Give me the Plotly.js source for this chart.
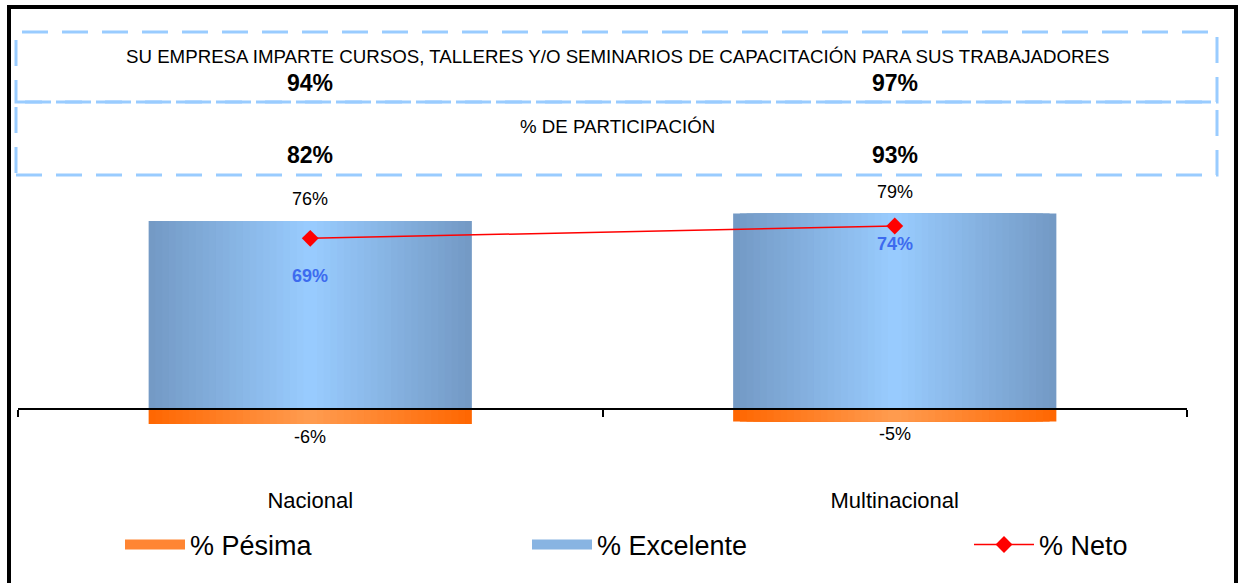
<!DOCTYPE html>
<html>
<head>
<meta charset="utf-8">
<script src="https://cdn.plot.ly/plotly-3.0.1.min.js"></script>
<style>
  body { margin: 0; background: #fff; }
  #wrap { position: relative; width: 1238px; height: 583px; overflow: hidden; }
  #frame { position: absolute; left: 7px; top: 5px; width: 1231px; height: 620px;
           box-sizing: border-box; border: 4px solid #000; pointer-events: none; }
</style>
</head>
<body>
<div id="wrap">
  <div id="graph" style="width:1238px;height:583px;"></div>
  <div id="frame"></div>
</div>
<script>
// chart values
var categories = ['Nacional', 'Multinacional'];
var pesima = [-6, -5];
var excelente = [76, 79];
var neto = [69, 74];
var imparte = [94, 97];
var participacion = [82, 93];
var headerText = 'SU EMPRESA IMPARTE CURSOS, TALLERES Y/O SEMINARIOS DE CAPACITACIÓN PARA SUS TRABAJADORES';
var partText = '% DE PARTICIPACIÓN';

var W = 1238, H = 583;
var M = {l: 18, r: 51, t: 174, b: 95};
var plotW = W - M.l - M.r;
var plotH = H - M.t - M.b;
var yRange = [-31.9, 95];
var FONT = 'Liberation Sans, Arial, sans-serif';

function paperY(py) { return (H - M.b - py) / plotH; }
function paperX(px) { return (px - M.l) / plotW; }

function pct(v) { return v + '%'; }

function mix(a, b, t) {
	var c = [];
	for (var i = 0; i < 3; i++) c[i] = Math.round(a[i] + (b[i] - a[i]) * t);
	return 'rgb(' + c.join(',') + ')';
}

// fake a horizontal gradient by stacking narrower bars on top of each other
var barWidth = 0.553;
var steps = 24;
var traces = [];
function gradientBars(values, edge, center) {
	for (var k = 0; k < steps; k++) {
		var t = (k + 0.5) / steps;
		traces.push({
			type: 'bar',
			x: categories,
			y: values,
			width: barWidth * (1 - k / steps),
			marker: {color: mix(edge, center, t), line: {width: 0}},
			showlegend: false,
			hoverinfo: 'skip'
		});
	}
}
gradientBars(excelente, [115, 153, 196], [153, 204, 255]);
gradientBars(pesima, [255, 102, 0], [255, 156, 80]);

traces.push({
	type: 'scatter',
	x: categories,
	y: neto,
	mode: 'lines+markers',
	name: '% Neto',
	line: {color: '#FF0000', width: 1.5},
	marker: {symbol: 'diamond', size: 13, color: '#FF0000'},
	legend: 'legend3',
	hoverinfo: 'skip'
});

// legend swatches for the bar series
traces.push({
	type: 'scatter', x: [null], y: [null], mode: 'lines', name: '% Pésima',
	line: {color: '#FF8533', width: 17}, legend: 'legend', hoverinfo: 'skip'
});
traces.push({
	type: 'scatter', x: [null], y: [null], mode: 'lines', name: '% Excelente',
	line: {color: '#88B4E2', width: 17}, legend: 'legend2', hoverinfo: 'skip'
});

var annotations = [];
annotations.push({
	xref: 'paper', yref: 'paper', x: paperX(617), y: paperY(56),
	text: headerText, showarrow: false, xanchor: 'center', yanchor: 'middle',
	font: {family: FONT, size: 18.7, color: '#000'}
});
annotations.push({
	xref: 'paper', yref: 'paper', x: paperX(617), y: paperY(127),
	text: partText, showarrow: false, xanchor: 'center', yanchor: 'middle',
	font: {family: FONT, size: 18.7, color: '#000'}
});
for (var i = 0; i < categories.length; i++) {
	annotations.push({
		xref: 'x', yref: 'paper', x: categories[i], y: paperY(83),
		text: '<b>' + pct(imparte[i]) + '</b>', showarrow: false, yanchor: 'middle',
		font: {family: FONT, size: 23, color: '#000'}
	});
	annotations.push({
		xref: 'x', yref: 'paper', x: categories[i], y: paperY(155),
		text: '<b>' + pct(participacion[i]) + '</b>', showarrow: false, yanchor: 'middle',
		font: {family: FONT, size: 23, color: '#000'}
	});
	annotations.push({
		xref: 'x', yref: 'y', x: categories[i], y: excelente[i], yshift: 10,
		text: pct(excelente[i]), showarrow: false, yanchor: 'bottom',
		font: {family: FONT, size: 18, color: '#000'}
	});
	annotations.push({
		xref: 'x', yref: 'y', x: categories[i], y: pesima[i], yshift: -1,
		text: pct(pesima[i]), showarrow: false, yanchor: 'top',
		font: {family: FONT, size: 18, color: '#000'}
	});
}
var netShift = [-38, -18];
for (var i = 0; i < categories.length; i++) {
	annotations.push({
		xref: 'x', yref: 'y', x: categories[i], y: neto[i], yshift: netShift[i],
		text: '<b>' + pct(neto[i]) + '</b>', showarrow: false, yanchor: 'middle',
		font: {family: FONT, size: 18, color: '#3D6BEF'}
	});
}

var boxLine = {color: '#99CCFF', width: 3, dash: '26px,14px'};
var shapes = [
	{type: 'rect', xref: 'paper', yref: 'paper', x0: paperX(16), x1: paperX(1217),
	 y0: paperY(102), y1: paperY(32), line: boxLine},
	{type: 'rect', xref: 'paper', yref: 'paper', x0: paperX(16), x1: paperX(1217),
	 y0: paperY(175), y1: paperY(102), line: boxLine}
];

var legendBase = {
	orientation: 'h', xanchor: 'left', yanchor: 'middle', y: paperY(545),
	font: {family: FONT, size: 27, color: '#000'}, itemwidth: 60,
	bgcolor: 'rgba(0,0,0,0)', borderwidth: 0
};

var layout = {
	width: W,
	height: H,
	margin: M,
	paper_bgcolor: '#fff',
	plot_bgcolor: '#fff',
	barmode: 'overlay',
	font: {family: FONT, color: '#000'},
	xaxis: {
		type: 'category',
		anchor: 'free',
		position: -yRange[0] / (yRange[1] - yRange[0]),
		range: [-0.5, 1.5],
		showline: true, linecolor: '#000', linewidth: 2,
		ticks: 'outside', tickson: 'boundaries', ticklen: 7, tickwidth: 2, tickcolor: '#000',
		ticklabelstandoff: 72,
		tickfont: {family: FONT, size: 22, color: '#000'},
		showgrid: false, zeroline: false, fixedrange: true
	},
	yaxis: {
		range: yRange, showgrid: false, zeroline: false, showticklabels: false,
		ticks: '', showline: false, fixedrange: true
	},
	legend: Object.assign({}, legendBase, {x: paperX(120)}),
	legend2: Object.assign({}, legendBase, {x: paperX(527)}),
	legend3: Object.assign({}, legendBase, {x: paperX(969)}),
	annotations: annotations,
	shapes: shapes
};

Plotly.newPlot('graph', traces, layout, {displayModeBar: false, staticPlot: true});
</script>
</body>
</html>
